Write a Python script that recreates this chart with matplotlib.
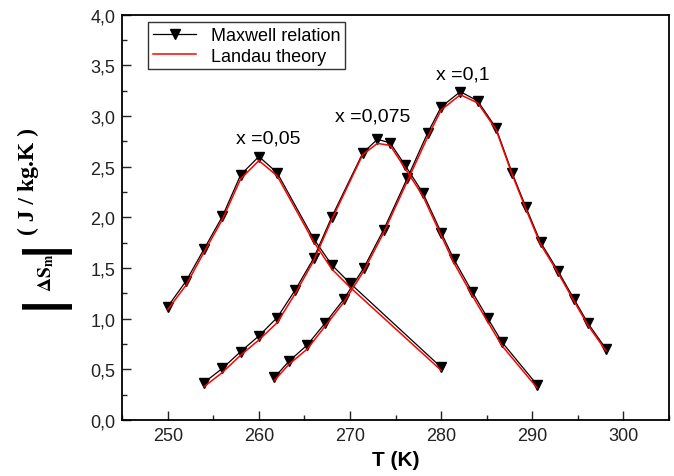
import matplotlib
matplotlib.use("Agg")
import matplotlib.pyplot as plt
from matplotlib.ticker import MultipleLocator, FuncFormatter

# x = 0,05
t_005 = [250, 252, 254, 256, 258, 260, 262, 266, 268, 270, 280]
maxwell_005 = [1.12, 1.37, 1.69, 2.01, 2.42, 2.60, 2.44, 1.79, 1.53, 1.35, 0.52]
landau_005 = [1.09, 1.33, 1.66, 1.98, 2.38, 2.56, 2.41, 1.76, 1.49, 1.31, 0.49]

# x = 0,075
t_0075 = [254, 256, 258, 260, 262, 264, 266, 268, 271.4, 273, 274.4, 276,
          278, 280, 281.4, 283.4, 285.1, 286.7, 290.5]
maxwell_0075 = [0.37, 0.51, 0.675, 0.83, 1.01, 1.285, 1.595, 2.005, 2.635, 2.77,
                2.735, 2.52, 2.24, 1.85, 1.585, 1.265, 1.005, 0.765, 0.35]
landau_0075 = [0.33, 0.47, 0.64, 0.79, 0.96, 1.25, 1.57, 1.98, 2.62, 2.73,
               2.71, 2.49, 2.21, 1.82, 1.55, 1.23, 0.97, 0.73, 0.32]

# x = 0,1
t_01 = [261.7, 263.3, 265.3, 267.3, 269.3, 271.5, 273.7, 276.3, 278.5, 280,
        282.1, 284, 286, 287.8, 289.3, 290.9, 292.8, 294.6, 296.1, 298.1]
maxwell_01 = [0.42, 0.58, 0.74, 0.96, 1.19, 1.50, 1.88, 2.39, 2.83, 3.09,
              3.24, 3.15, 2.885, 2.435, 2.10, 1.755, 1.475, 1.19, 0.955, 0.70]
landau_01 = [0.39, 0.55, 0.70, 0.93, 1.16, 1.47, 1.85, 2.36, 2.79, 3.06,
             3.21, 3.13, 2.87, 2.42, 2.08, 1.735, 1.455, 1.17, 0.935, 0.68]

curve_labels = ["x =0,05", "x =0,075", "x =0,1"]
label_pos = [(261.0, 2.78), (272.5, 3.00), (282.4, 3.41)]

plt.rcParams['font.family'] = ['Liberation Sans', 'DejaVu Sans']
plt.rcParams['mathtext.fontset'] = 'stix'

fig = plt.figure(figsize=(6.74, 4.77), dpi=100)
ax = fig.add_axes([0.1813, 0.1174, 0.8113, 0.8497])

series = [(t_005, maxwell_005, landau_005),
          (t_0075, maxwell_0075, landau_0075),
          (t_01, maxwell_01, landau_01)]
for t, m, l in series:
    h_max, = ax.plot(t, m, color='black', lw=0.9, marker='v', ms=6.8, zorder=2)
    h_lan, = ax.plot(t, l, color='red', lw=1.1, zorder=3)

for txt, (tx, ty) in zip(curve_labels, label_pos):
    ax.text(tx, ty, txt, fontsize=14, ha='center', va='center')

ax.set_xlim(245, 305)
ax.set_ylim(0, 4)
ax.xaxis.set_major_locator(MultipleLocator(10))
ax.xaxis.set_minor_locator(MultipleLocator(5))
ax.yaxis.set_major_locator(MultipleLocator(0.5))
ax.yaxis.set_minor_locator(MultipleLocator(0.25))
ax.yaxis.set_major_formatter(FuncFormatter(lambda v, _: f'{v:.1f}'.replace('.', ',')))
ax.tick_params(which='both', direction='in', top=False, right=False,
               labelsize=13, width=1, colors='#222222', labelcolor='#222222')
ax.tick_params(which='major', length=6.5, pad=5)
ax.tick_params(which='minor', length=3.5)
for sp in ax.spines.values():
    sp.set_linewidth(1.3)

ax.set_xlabel('T (K)', fontsize=15, fontweight='bold', labelpad=4)

# y axis label built from pieces: |ΔS_m| and the units
fig.text(0.042, 0.620, '( J / kg.K )', rotation=90, ha='center', va='center',
         family='Liberation Serif', fontweight='bold', fontsize=17)
fig.text(0.068, 0.429, r'$\mathbf{\Delta S}_{\mathbf{m}}$', rotation=90,
         ha='center', va='center', fontsize=14)
for by in (0.486, 0.371):
    fig.text(0.0616, by, '|', rotation=90, ha='center', va='center',
             family='DejaVu Sans', fontweight='bold', fontsize=36)

leg = ax.legend([h_max, h_lan], ['Maxwell relation', 'Landau theory'],
                loc='upper left', bbox_to_anchor=(0.048, 0.981), frameon=True,
                fancybox=False, edgecolor='black', fontsize=13, handlelength=2.4,
                handletextpad=0.8, borderpad=0.25, labelspacing=0.2,
                borderaxespad=0)
leg.get_frame().set_linewidth(1.0)

fig.savefig('out.png', dpi=100)
